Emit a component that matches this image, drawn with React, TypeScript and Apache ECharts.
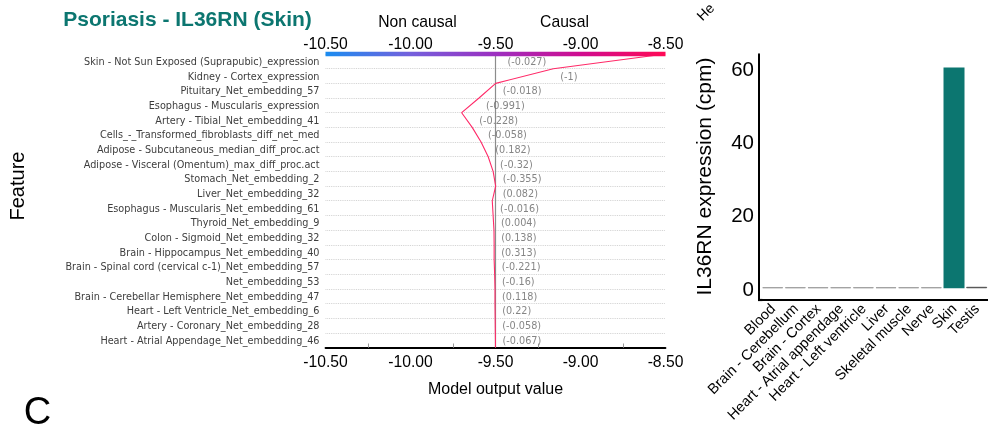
import React, { useEffect, useRef } from "react";
import * as echarts from "echarts";

// ---- Decision plot data (features listed top to bottom) ----
const featureNames = [
  "Skin - Not Sun Exposed (Suprapubic)_expression",
  "Kidney - Cortex_expression",
  "Pituitary_Net_embedding_57",
  "Esophagus - Muscularis_expression",
  "Artery - Tibial_Net_embedding_41",
  "Cells_-_Transformed_fibroblasts_diff_net_med",
  "Adipose - Subcutaneous_median_diff_proc.act",
  "Adipose - Visceral (Omentum)_max_diff_proc.act",
  "Stomach_Net_embedding_2",
  "Liver_Net_embedding_32",
  "Esophagus - Muscularis_Net_embedding_61",
  "Thyroid_Net_embedding_9",
  "Colon - Sigmoid_Net_embedding_32",
  "Brain - Hippocampus_Net_embedding_40",
  "Brain - Spinal cord (cervical c-1)_Net_embedding_57",
  "Net_embedding_53",
  "Brain - Cerebellar Hemisphere_Net_embedding_47",
  "Heart - Left Ventricle_Net_embedding_6",
  "Artery - Coronary_Net_embedding_28",
  "Heart - Atrial Appendage_Net_embedding_46",
];

const featureValues = [
  "-0.027", "-1", "-0.018", "-0.991", "-0.228", "-0.058", "0.182", "-0.32",
  "-0.355", "0.082", "-0.016", "0.004", "0.138", "0.313", "-0.221", "-0.16",
  "0.118", "0.22", "-0.058", "-0.067",
];

const baseValue = -9.5;

// Cumulative model output, from the base value (bottom) up to the prediction (top)
const outputPath = [
  -9.5, -9.501, -9.502, -9.503, -9.503, -9.505, -9.508, -9.508, -9.509, -9.514,
  -9.519, -9.499, -9.514, -9.543, -9.585, -9.637, -9.699, -9.597, -9.499, -9.16,
  -8.502,
];

const xTicks = { min: -10.5, max: -8.5, step: 0.5 };

// ---- Expression bar chart data ----
const tissues = [
  "Blood",
  "Brain - Cerebellum",
  "Brain - Cortex",
  "Heart - Atrial appendage",
  "Heart - Left ventricle",
  "Liver",
  "Skeletal muscle",
  "Nerve",
  "Skin",
  "Testis",
];
const expressionCpm = [0.3, 0.3, 0.3, 0.3, 0.3, 0.3, 0.3, 0.3, 60.2, 0.4];
const expressionTicks = [0, 20, 40, 60];

const TEAL = "#0c7670";
const tissueColors: Record<string, string> = { Skin: TEAL, Testis: "#555555" };
const SANS = "'Liberation Sans', Arial, sans-serif";
const DEJAVU = "'DejaVu Sans', sans-serif";

// layout of the decision plot
const W = 988;
const DP = { left: 325.5, right: W - 665.5, top: 54, bottom: 444 - 347.5 };
const LABEL_FONT = 9.7;
const LABEL_GAP = 7;

export default function App() {
  const ref = useRef<HTMLDivElement>(null);

  useEffect(() => {
    if (!ref.current) return;
    const chart = echarts.init(ref.current, undefined, { renderer: "svg" });

    const ctx = document.createElement("canvas").getContext("2d")!;
    ctx.font = `${LABEL_FONT}px 'DejaVu Sans'`;
    const pxPerUnit = (W - DP.left - DP.right) / (xTicks.max - xTicks.min);
    const nRows = featureNames.length;

    // value labels next to the path, shifted to the left side when they would overflow
    const labelData = featureNames.map((_, k) => {
      const a = outputPath[nRows - 1 - k];
      const b = outputPath[nRows - k];
      const text = `(${featureValues[k]})`;
      const w = (ctx.measureText(text).width + LABEL_GAP) / pxPerUnit;
      const fitsRight = Math.max(a, b) + w <= xTicks.max;
      return {
        value: [fitsRight ? Math.max(a, b) : Math.min(a, b), nRows - 0.5 - k],
        name: text,
        label: { position: fitsRight ? "right" : "left" },
      };
    });

    const pathData = outputPath.map((v, i) => [v, i]);

    const option: any = {
      animation: false,
      textStyle: { fontFamily: SANS },
      grid: [
        { left: DP.left, right: DP.right, top: DP.top, bottom: DP.bottom },
        { left: 761.4, right: -10.9, top: 54.3, bottom: 144 },
      ],
      xAxis: [
        {
          type: "value",
          gridIndex: 0,
          position: "bottom",
          min: xTicks.min,
          max: xTicks.max,
          interval: xTicks.step,
          axisLine: { show: true, onZero: false, lineStyle: { color: "#000", width: 1.8 } },
          axisTick: { show: false, inside: true },
          minorTick: { show: true, splitNumber: 2, length: 3, lineStyle: { color: "#666", width: 1 } },
          splitLine: { show: false },
          minorSplitLine: { show: false },
          axisLabel: {
            fontSize: 15.7,
            color: "#000",
            margin: 6,
            showMinLabel: true,
            showMaxLabel: true,
            formatter: (v: number) => v.toFixed(2),
          },
          name: "Model output value",
          nameLocation: "middle",
          nameGap: 33,
          nameTextStyle: { fontSize: 16, color: "#000", fontFamily: SANS },
        },
        {
          type: "value",
          gridIndex: 0,
          position: "top",
          min: xTicks.min,
          max: xTicks.max,
          interval: xTicks.step,
          axisLine: { show: false },
          axisTick: { show: false },
          minorTick: { show: true, splitNumber: 2, length: 4, lineStyle: { color: "#999", width: 1 } },
          splitLine: { show: false },
          minorSplitLine: { show: false },
          axisLabel: {
            fontSize: 15.7,
            color: "#000",
            margin: 3,
            showMinLabel: true,
            showMaxLabel: true,
            formatter: (v: number) => v.toFixed(2),
          },
        },
        {
          type: "category",
          gridIndex: 1,
          data: tissues,
          axisLine: { show: true, onZero: false, lineStyle: { color: "#000", width: 2.2 } },
          axisTick: { show: false },
          axisLabel: { interval: 0, rotate: 45, fontSize: 14.5, color: "#000", margin: 6 },
          splitLine: { show: false },
        },
      ],
      yAxis: [
        {
          type: "category",
          gridIndex: 0,
          data: [...featureNames].reverse(),
          axisLine: { show: false },
          axisTick: { show: false },
          axisLabel: { interval: 0, fontSize: LABEL_FONT, fontFamily: DEJAVU, color: "#3d3d3d", margin: 6 },
          splitLine: { show: true, interval: 0, lineStyle: { color: "#cccccc", type: "dotted", width: 0.9 } },
        },
        {
          type: "value",
          gridIndex: 0,
          min: 0,
          max: nRows,
          show: false,
          splitLine: { show: false },
        },
        {
          type: "value",
          gridIndex: 1,
          min: -3.2,
          max: 63.8,
          offset: 2.4,
          axisLine: { show: true, lineStyle: { color: "#000", width: 2 } },
          axisTick: { show: false },
          splitLine: { show: false },
          axisLabel: { customValues: expressionTicks, fontSize: 20.5, color: "#000", margin: 5 },
        },
      ],
      series: [
        {
          type: "line",
          xAxisIndex: 0,
          yAxisIndex: 1,
          data: pathData,
          symbol: "none",
          z: 4,
          lineStyle: { color: "#ff2a68", width: 1.1 },
          markLine: {
            silent: true,
            symbol: "none",
            label: { show: false },
            lineStyle: { color: "#8c8c8c", width: 1.2, type: "solid" },
            data: [{ xAxis: baseValue }],
            z: 3,
          },
        },
        {
          type: "scatter",
          xAxisIndex: 0,
          yAxisIndex: 1,
          symbolSize: 0,
          itemStyle: { color: "transparent" },
          data: labelData,
          z: 5,
          label: {
            show: true,
            formatter: "{b}",
            distance: LABEL_GAP,
            fontSize: LABEL_FONT,
            fontFamily: DEJAVU,
            color: "#666666",
            verticalAlign: "middle",
          },
        },
        {
          // colour bar along the top axis
          type: "custom",
          xAxisIndex: 0,
          yAxisIndex: 1,
          silent: true,
          clip: false,
          z: 6,
          data: [[xTicks.min, xTicks.max]],
          renderItem: (_params: any, api: any) => {
            const p0 = api.coord([api.value(0), nRows]);
            const p1 = api.coord([api.value(1), nRows]);
            return {
              type: "rect",
              shape: { x: p0[0], y: p0[1] - 2.2, width: p1[0] - p0[0], height: 4.4 },
              style: {
                fill: new echarts.graphic.LinearGradient(0, 0, 1, 0, [
                  { offset: 0, color: "#1a8cf0" },
                  { offset: 0.25, color: "#7460dc" },
                  { offset: 0.5, color: "#9c2fc0" },
                  { offset: 0.75, color: "#d00c8f" },
                  { offset: 1, color: "#ff0a55" },
                ]),
              },
            };
          },
        },
        {
          type: "bar",
          xAxisIndex: 2,
          yAxisIndex: 2,
          barWidth: 21,
          data: tissues.map((t, i) => ({
            value: expressionCpm[i],
            itemStyle: {
              color: tissueColors[t] || "#a0a0a0",
              borderColor: tissueColors[t] || "#a0a0a0",
              borderWidth: t === "Skin" ? 0 : 1,
            },
          })),
        },
      ],
      graphic: [
        {
          type: "text",
          x: 187.5,
          y: 18,
          style: {
            text: "Psoriasis - IL36RN (Skin)",
            fill: TEAL,
            font: `bold 21px ${SANS}`,
            textAlign: "center",
            textVerticalAlign: "middle",
          },
        },
        {
          type: "text",
          x: 417.5,
          y: 21.5,
          style: { text: "Non causal", fill: "#000", font: `15.7px ${SANS}`, textAlign: "center", textVerticalAlign: "middle" },
        },
        {
          type: "text",
          x: 564.5,
          y: 21.5,
          style: { text: "Causal", fill: "#000", font: `15.7px ${SANS}`, textAlign: "center", textVerticalAlign: "middle" },
        },
        {
          type: "text",
          x: 16.7,
          y: 186,
          rotation: Math.PI / 2,
          style: { text: "Feature", fill: "#000", font: `20px ${SANS}`, textAlign: "center", textVerticalAlign: "middle" },
        },
        {
          type: "text",
          x: 37.5,
          y: 411,
          style: { text: "C", fill: "#000", font: `38px ${SANS}`, textAlign: "center", textVerticalAlign: "middle" },
        },
        {
          type: "text",
          x: 703.5,
          y: 176.5,
          rotation: Math.PI / 2,
          style: {
            text: "IL36RN expression (cpm)",
            fill: "#000",
            font: `21px ${SANS}`,
            textAlign: "center",
            textVerticalAlign: "middle",
          },
        },
        {
          // start of a tissue label from the panel above
          type: "text",
          x: 699,
          y: 18,
          rotation: Math.PI / 4,
          style: { text: "He", fill: "#000", font: `14px ${SANS}`, textAlign: "left", textVerticalAlign: "middle" },
        },
        {
          // closes the corner between the two axes
          type: "rect",
          shape: { x: 758, y: 298.9, width: 4.4, height: 2.2 },
          style: { fill: "#000" },
        },
      ],
    };

    chart.setOption(option);
    return () => chart.dispose();
  }, []);

  return <div ref={ref} style={{ position: "fixed", left: 0, top: 0, width: W, height: 444 }} />;
}
